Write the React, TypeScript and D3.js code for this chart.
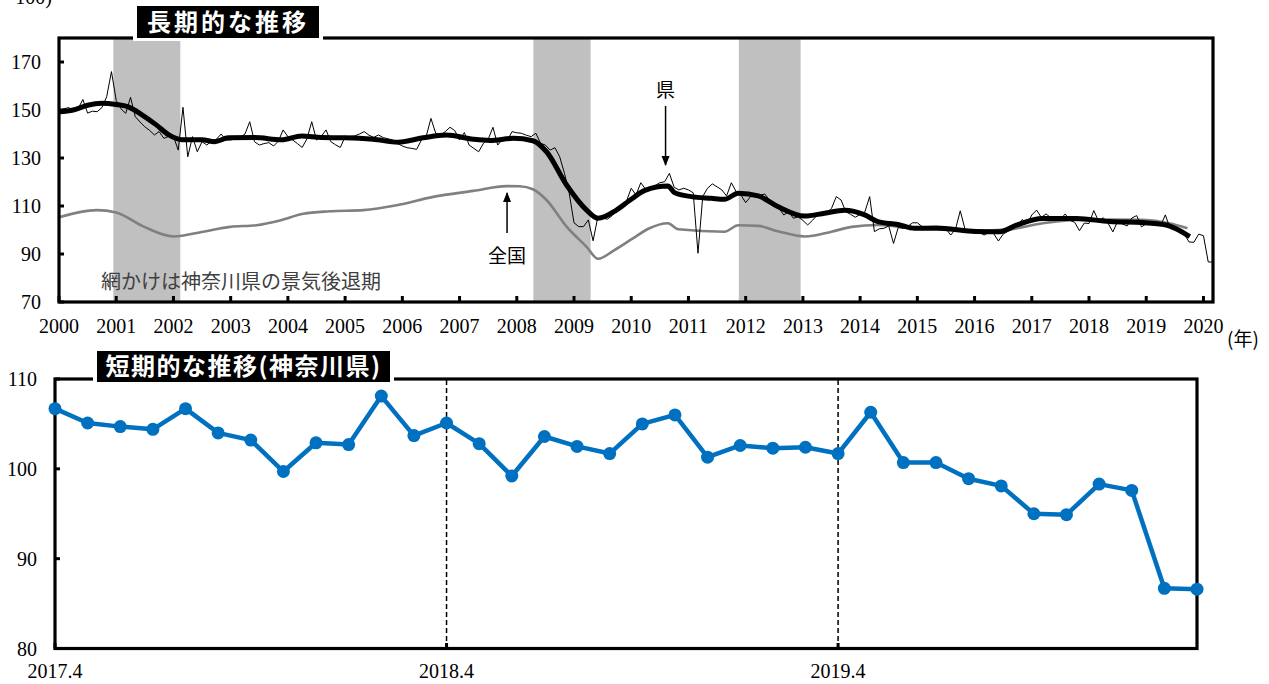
import React from "react";
import * as d3 from "d3";

// ---------- DATA ----------
// Kanagawa monthly index (Jan 2000 – Mar 2017), thin line
const kanagawaMonthlyTo2017 = [
  // 2000
  149.5, 150.5, 151, 150, 150.5, 154.4, 148.7, 149.5, 149.3, 151, 155.5, 166,
  // 2001
  154, 150.5, 148.6, 155.3, 147.2, 145, 143, 141.5, 139.6, 141, 138.2, 139,
  // 2002
  139, 133.3, 151.1, 130.5, 138.9, 132.6, 136.8, 135.4, 137.1, 137.8, 140, 137.5,
  // 2003
  137.5, 138, 138.6, 140, 145.1, 136.8, 135.4, 136, 136.4, 135, 137, 141.7,
  // 2004
  138.9, 137.5, 136, 134.4, 138, 145.1, 137.5, 139, 141.7, 136.8, 135.5, 134.4,
  // 2005
  138.9, 139, 139.2, 140, 141, 139.5, 138.6, 139.6, 138.5, 138, 137.5, 136.1,
  // 2006
  135, 134.3, 134, 133.6, 137.5, 139, 146.5, 140.3, 139.6, 141, 142.8, 141.4,
  // 2007
  137.5, 140.6, 135.4, 134, 132.6, 136.1, 137.8, 142.8, 135.4, 137.8, 137.2, 141,
  // 2008
  140.5, 140.3, 139.5, 138.9, 140.3, 136.1, 135.4, 133.3, 134.3, 130.5, 123.6, 115.3,
  // 2009
  103, 101.4, 101.4, 104.2, 95.5, 105.5, 105, 104.5, 106, 108, 110, 112,
  // 2010
  117.4, 114.6, 119.7, 117, 117.5, 118.5, 119.7, 120.1, 123.6, 117.8, 116.7, 117.4,
  // 2011
  116.7, 115.5, 90.3, 114, 117.4, 119.2, 118, 116.7, 114.2, 119.7, 116, 114.6,
  // 2012
  111.4, 113.9, 114.5, 114.5, 115, 112.5, 110, 109, 106.25, 107.6, 104.9, 105.5,
  // 2013
  104, 102.1, 104, 106.25, 106, 107, 109, 113.9, 112.5, 107.6, 106.5, 105.3,
  // 2014
  106.5, 107.6, 113.9, 99.3, 100.5, 100.7, 101.7, 94.4, 101.1, 100.7, 101.5, 103,
  // 2015
  103, 101.4, 100.7, 100.7, 101, 100.7, 100.5, 97.9, 100.3, 108, 100.3, 99.5,
  // 2016
  98.6, 99, 97.9, 98.9, 98.5, 95.4, 98.3, 99.5, 100.3, 102, 104.4, 102.5,
  // 2017 Jan-Mar
  106.25, 108.3, 105.3,
];

// Short-term (Apr 2017 – Mar 2020)
const shortValues = [
  106.7, 105.1, 104.7, 104.4, 106.7, 104.0, 103.2, 99.7, 102.9, 102.7, 108.1, 103.7,
  105.1, 102.8, 99.2, 103.6, 102.5, 101.7, 105.0, 106.0, 101.3, 102.6, 102.3, 102.4,
  101.7, 106.3, 100.7, 100.7, 98.9, 98.1, 95.0, 94.9, 98.3, 97.6, 86.7, 86.6,
];
const shortTickLabels = ["2017.4", "2018.4", "2019.4"];
const shortTickIndex = [0, 12, 24];
const shortYTicks = [80, 90, 100, 110];

// Kanagawa trend (thick black)
const trendDates = [
  2000.0, 2000.25, 2000.5, 2000.75, 2001.0, 2001.2, 2001.45, 2001.7, 2001.92, 2002.15,
  2002.5, 2002.72, 2002.96, 2003.42, 2003.89, 2004.24, 2004.59, 2005.0, 2005.49, 2005.93,
  2006.36, 2006.77, 2007.24, 2007.53, 2007.94, 2008.28, 2008.52, 2008.87, 2009.22, 2009.42,
  2009.74, 2009.97, 2010.24, 2010.64, 2010.76, 2011.05, 2011.4, 2011.63, 2011.87, 2012.22,
  2012.56, 2013.03, 2013.38, 2013.73, 2014.08, 2014.31, 2014.66, 2014.95, 2015.33, 2016.03,
  2016.44, 2016.73, 2017.19, 2017.78, 2018.36, 2018.94, 2019.35, 2019.52, 2019.76,
];
const trendValues = [
  149.3, 150, 152, 152.8, 152.3, 151.4, 148, 143.8, 139.6, 137.6,
  137.6, 136.8, 138.4, 138.5, 137.6, 139.2, 138.5, 138.4, 137.8, 136.6,
  138.4, 139.6, 137.8, 137.3, 138.2, 137.2, 132.6, 118.75, 108.3, 104.9,
  108.3, 112.3, 116.5, 118.3, 115.5, 113.9, 113.2, 112.8, 115.3, 114.2,
  109.8, 105.8, 107.0, 108.2, 106.3, 103.5, 102.3, 100.7, 100.8, 99.4,
  99.3, 102, 104.8, 104.8, 103.5, 103.1, 102.1, 100.5, 97.2,
];

// National trend (gray)
const nationalDates = [
  2000.0, 2000.66, 2001.0, 2001.47, 2002.0, 2002.52, 2002.99, 2003.45, 2003.86, 2004.27,
  2004.73, 2005.32, 2005.9, 2006.54, 2007.24, 2007.82, 2008.05, 2008.28, 2008.52, 2008.87,
  2009.22, 2009.42, 2009.7, 2010.03, 2010.3, 2010.64, 2010.82, 2011.63, 2011.87, 2012.22,
  2012.56, 2013.03, 2013.5, 2013.85, 2014.31, 2014.95, 2015.6, 2016.03, 2016.61, 2017.19,
  2017.78, 2018.36, 2018.94, 2019.4, 2019.72,
];
const nationalValues = [
  105.3, 108.3, 107.3, 101.5, 97.3, 99.3, 101.3, 102, 104, 106.8,
  107.8, 108.3, 110.3, 113.8, 116.3, 118.3, 118.2, 117, 112.5, 101.4,
  93, 88, 91.5, 96.5, 100.5, 102.8, 100.3, 99.3, 102, 101.7,
  99.5, 97.3, 99.3, 101.3, 102.1, 100.6, 100, 99.7, 100.3, 102.8,
  104.2, 104.4, 104.2, 102.8, 100.7,
];

const recessionStarts = [2000.95, 2008.29, 2011.88];
const recessionEnds = [2002.12, 2009.29, 2012.96];

const topYTicks = [70, 90, 110, 130, 150, 170];
const topXTicks = [
  2000, 2001, 2002, 2003, 2004, 2005, 2006, 2007, 2008, 2009, 2010,
  2011, 2012, 2013, 2014, 2015, 2016, 2017, 2018, 2019, 2020,
];

const SERIF = "'Liberation Serif', 'DejaVu Serif', serif";
const JP = "'Noto Sans CJK JP', 'Noto Sans', sans-serif";

export default function App() {
  const W = 1269;
  const H = 684;

  // ----- top chart scales -----
  const xTop = d3.scaleLinear().domain([2000, 2020 + 2 / 12]).range([59, 1213]);
  const yTop = d3.scaleLinear().domain([70, 180]).range([302, 38]);

  const monthly: [number, number][] = [...kanagawaMonthlyTo2017, ...shortValues].map(
    (v, i) => [2000 + i / 12, v]
  );
  const trend: [number, number][] = trendDates.map((d, i) => [d, trendValues[i]]);
  const national: [number, number][] = nationalDates.map((d, i) => [d, nationalValues[i]]);

  const rawLine = d3
    .line<[number, number]>()
    .x((d) => xTop(d[0]))
    .y((d) => yTop(d[1]));
  const smoothLine = d3
    .line<[number, number]>()
    .x((d) => xTop(d[0]))
    .y((d) => yTop(d[1]))
    .curve(d3.curveMonotoneX);

  // ----- bottom chart scales -----
  const xBot = d3.scaleLinear().domain([0, shortValues.length - 1]).range([55, 1197]);
  const yBot = d3.scaleLinear().domain([80, 110]).range([648.5, 379]);
  const botLine = d3
    .line<number>()
    .x((_, i) => xBot(i))
    .y((d) => yBot(d));

  const kenX = xTop(2010.6);
  const zenX = xTop(2007.83);

  return (
    <svg
      width={W}
      height={H}
      viewBox={`0 0 ${W} ${H}`}
      style={{ position: "absolute", left: 0, top: 0, background: "#fff" }}
    >
      <defs>
        <marker id="arrowHead" viewBox="0 0 10 10" refX="9" refY="5" markerWidth="7" markerHeight="7" orient="auto">
          <path d="M0,1 L10,5 L0,9 z" fill="#000" />
        </marker>
      </defs>

      {/* top-left unit label (cut off at the top edge, as in the reference) */}
      <text x={52} y={4} textAnchor="end" fontFamily={SERIF} fontSize={20} fill="#000">
        100)
      </text>

      {/* ===== TOP CHART ===== */}
      {recessionStarts.map((s, i) => (
        <rect
          key={"rec" + i}
          x={xTop(s)}
          y={yTop(180)}
          width={xTop(recessionEnds[i]) - xTop(s)}
          height={yTop(70) - yTop(180)}
          fill="#c0c0c0"
        />
      ))}

      {/* national trend */}
      <path d={smoothLine(national) || ""} fill="none" stroke="#808080" strokeWidth={2.6} />
      {/* monthly thin line */}
      <path d={rawLine(monthly) || ""} fill="none" stroke="#000" strokeWidth={1} />
      {/* Kanagawa trend */}
      <path d={smoothLine(trend) || ""} fill="none" stroke="#000" strokeWidth={5} strokeLinejoin="round" />

      {/* frame */}
      <rect x={59} y={38} width={1213 - 59} height={302 - 38} fill="none" stroke="#000" strokeWidth={3.2} />
      {/* y ticks */}
      {topYTicks.map((t) => (
        <g key={"yt" + t}>
          <line x1={59} x2={64} y1={yTop(t)} y2={yTop(t)} stroke="#000" strokeWidth={3} />
          <text
            x={41}
            y={yTop(t)}
            dy="0.35em"
            textAnchor="end"
            fontFamily={SERIF}
            fontSize={20}
            fill="#000"
          >
            {t}
          </text>
        </g>
      ))}
      {/* x ticks */}
      {topXTicks.map((t) => (
        <g key={"xt" + t}>
          <line x1={xTop(t)} x2={xTop(t)} y1={302} y2={296} stroke="#000" strokeWidth={3} />
          <text x={xTop(t)} y={333} textAnchor="middle" fontFamily={SERIF} fontSize={20} fill="#000">
            {t}
          </text>
        </g>
      ))}
      <text x={1243} y={346} textAnchor="middle" fontFamily={JP} fontSize={19} fill="#000">
        (年)
      </text>

      {/* annotations */}
      <text x={kenX} y={97} textAnchor="middle" fontFamily={JP} fontSize={19} fill="#000">
        県
      </text>
      <line
        x1={kenX}
        x2={kenX}
        y1={106}
        y2={165}
        stroke="#000"
        strokeWidth={1.5}
        markerEnd="url(#arrowHead)"
      />
      <text x={zenX} y={263} textAnchor="middle" fontFamily={JP} fontSize={19} fill="#000">
        全国
      </text>
      <line
        x1={zenX}
        x2={zenX}
        y1={233}
        y2={193}
        stroke="#000"
        strokeWidth={1.5}
        markerEnd="url(#arrowHead)"
      />
      <text x={101} y={289} fontFamily={JP} fontSize={20} fill="#404040">
        網かけは神奈川県の景気後退期
      </text>

      {/* title box */}
      <rect x={133} y={3} width={190} height={38} fill="#fff" />
      <rect x={137} y={6} width={182} height={32} fill="#000" />
      <text
        x={228}
        y={22}
        dy="0.36em"
        textAnchor="middle"
        fontFamily={JP}
        fontWeight="bold"
        fontSize={24}
        letterSpacing={3}
        fill="#fff"
      >
        長期的な推移
      </text>

      {/* ===== BOTTOM CHART ===== */}
      <rect x={55} y={379} width={1197 - 55} height={648.5 - 379} fill="none" stroke="#000" strokeWidth={3.2} />
      {shortTickIndex.slice(1).map((idx) => (
        <line
          key={"dash" + idx}
          x1={xBot(idx)}
          x2={xBot(idx)}
          y1={380}
          y2={647}
          stroke="#000"
          strokeWidth={1.5}
          strokeDasharray="5,3"
        />
      ))}
      {shortTickIndex.map((idx, i) => (
        <g key={"bx" + idx}>
          <line x1={xBot(idx)} x2={xBot(idx)} y1={648.5} y2={643} stroke="#000" strokeWidth={3} />
          <text x={xBot(idx)} y={678} textAnchor="middle" fontFamily={SERIF} fontSize={20} fill="#000">
            {shortTickLabels[i]}
          </text>
        </g>
      ))}
      {shortYTicks.map((t) => (
        <g key={"by" + t}>
          <line x1={55} x2={60} y1={yBot(t)} y2={yBot(t)} stroke="#000" strokeWidth={3} />
          <text
            x={37}
            y={yBot(t)}
            dy="0.35em"
            textAnchor="end"
            fontFamily={SERIF}
            fontSize={20}
            fill="#000"
          >
            {t}
          </text>
        </g>
      ))}
      <path d={botLine(shortValues) || ""} fill="none" stroke="#0070C0" strokeWidth={4.5} strokeLinejoin="round" />
      {shortValues.map((v, i) => (
        <circle key={"pt" + i} cx={xBot(i)} cy={yBot(v)} r={6.5} fill="#0070C0" />
      ))}

      {/* bottom title box */}
      <rect x={93} y={348} width={301} height={38} fill="#fff" />
      <rect x={97} y={351} width={293} height={31} fill="#000" />
      <text
        x={243.5}
        y={366.5}
        dy="0.36em"
        textAnchor="middle"
        fontFamily={JP}
        fontWeight="bold"
        fontSize={24}
        letterSpacing={1.5}
        fill="#fff"
      >
        短期的な推移(神奈川県)
      </text>
    </svg>
  );
}
